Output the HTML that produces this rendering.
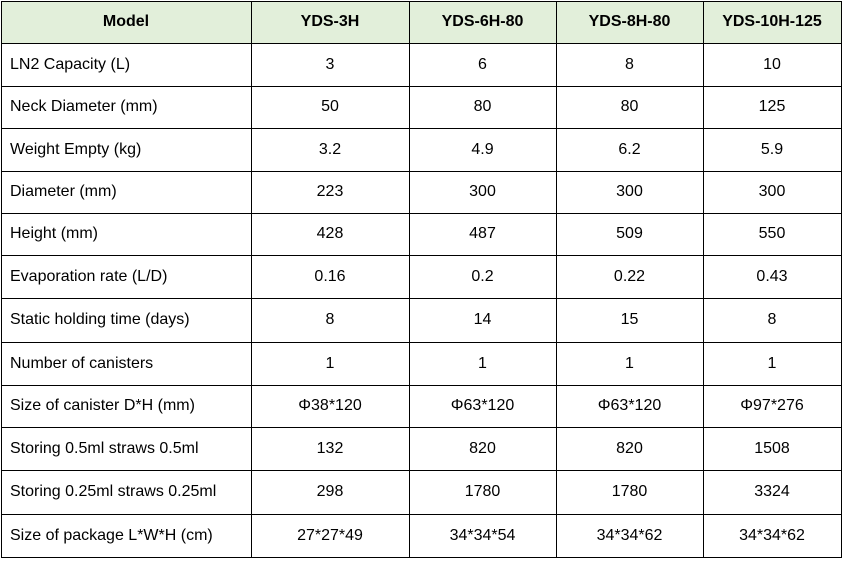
<!DOCTYPE html>
<html><head><meta charset="utf-8"><style>
body{margin:0;width:845px;height:561px;background:#fff;position:relative;font-family:"Liberation Sans",sans-serif;font-size:16px;color:#000;overflow:hidden}
.h{position:absolute;height:1px;background:#000;left:1px;width:841px}
.v{position:absolute;width:1px;background:#000;top:1px;height:557px}
.c{position:absolute;display:flex;align-items:center;justify-content:center;white-space:nowrap}
.l{justify-content:flex-start;padding-left:9px;box-sizing:border-box}
.b{font-weight:bold}
</style></head><body>
<div style="position:absolute;left:1px;top:1px;width:841px;height:42px;background:#e2efda"></div>
<div id="g"></div>
<script>
var rows=[1,43,86,128,171,213,255,298,342,385,427,470,514,557];
var cols=[1,251,409,556,703,841];
var data=[["Model","YDS-3H","YDS-6H-80","YDS-8H-80","YDS-10H-125"],
["LN2 Capacity (L)","3","6","8","10"],
["Neck Diameter (mm)","50","80","80","125"],
["Weight Empty (kg)","3.2","4.9","6.2","5.9"],
["Diameter (mm)","223","300","300","300"],
["Height (mm)","428","487","509","550"],
["Evaporation rate (L/D)","0.16","0.2","0.22","0.43"],
["Static holding time (days)","8","14","15","8"],
["Number of canisters","1","1","1","1"],
["Size of canister D*H (mm)","Φ38*120","Φ63*120","Φ63*120","Φ97*276"],
["Storing 0.5ml straws 0.5ml","132","820","820","1508"],
["Storing 0.25ml straws 0.25ml","298","1780","1780","3324"],
["Size of package L*W*H (cm)","27*27*49","34*34*54","34*34*62","34*34*62"]];
var h="";
rows.forEach(function(y){h+='<div class="h" style="top:'+y+'px"></div>'});
cols.forEach(function(x){h+='<div class="v" style="left:'+x+'px"></div>'});
data.forEach(function(r,i){r.forEach(function(t,j){
var cls="c"+(i==0?" b":"")+(j==0&&i>0?" l":"");
h+='<div class="'+cls+'" style="left:'+cols[j]+'px;top:'+rows[i]+'px;width:'+(cols[j+1]-cols[j])+'px;height:'+(rows[i+1]-rows[i])+'px">'+t+'</div>';
})});
document.getElementById("g").innerHTML=h;
</script>
</body></html>
